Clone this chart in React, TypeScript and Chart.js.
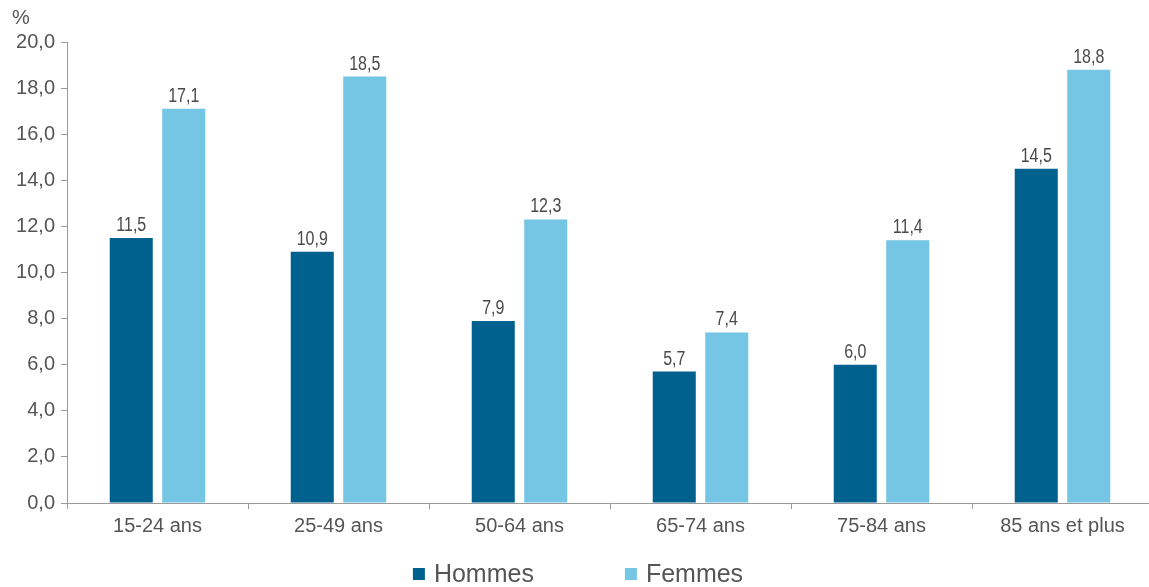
import React, { useEffect, useRef } from "react";
import { Chart, registerables } from "chart.js";

Chart.register(...registerables);

const categories = ["15-24 ans", "25-49 ans", "50-64 ans", "65-74 ans", "75-84 ans", "85 ans et plus"];
const hommes = [11.5, 10.9, 7.9, 5.7, 6.0, 14.5];
const femmes = [17.1, 18.5, 12.3, 7.4, 11.4, 18.8];
const seriesNames = ["Hommes", "Femmes"];
const seriesColors = ["#00618F", "#75C5E4"];
const yMin = 0;
const yMax = 20;
const yStep = 2;
const unitLabel = "%";

const fmt = (v: number) => v.toFixed(1).replace(".", ",");

const W = 1153;
const H = 587;

const valueLabels = {
  id: "valueLabels",
  afterDatasetsDraw(chart: any) {
    const ctx = chart.ctx;
    chart.data.datasets.forEach((ds: any, i: number) => {
      const meta = chart.getDatasetMeta(i);
      meta.data.forEach((el: any, j: number) => {
        ctx.save();
        ctx.font = '20px "Liberation Sans", Arial, sans-serif';
        ctx.fillStyle = "#4a4a4a";
        ctx.textAlign = "center";
        ctx.textBaseline = "alphabetic";
        ctx.translate(el.x, el.y - 7);
        ctx.scale(0.8, 1);
        ctx.fillText(fmt(ds.data[j]), 0, 0);
        ctx.restore();
      });
    });
  },
};

const extras = {
  id: "extras",
  afterDraw(chart: any) {
    const ctx = chart.ctx;
    ctx.save();
    // unit
    ctx.font = '20px "Liberation Sans", Arial, sans-serif';
    ctx.fillStyle = "#555555";
    ctx.textAlign = "left";
    ctx.textBaseline = "middle";
    ctx.fillText(unitLabel, 12, 18);
    // legend
    ctx.font = '25px "Liberation Sans", Arial, sans-serif';
    const box = 12;
    const boxGap = 9;
    const itemGap = 91;
    const widths = chart.data.datasets.map((d: any) => ctx.measureText(d.label).width);
    const total = widths.reduce((a: number, w: number) => a + box + boxGap + w, 0) + itemGap * (widths.length - 1);
    let x = W / 2 - total / 2 + 1.5;
    const cy = 574;
    chart.data.datasets.forEach((d: any, i: number) => {
      ctx.fillStyle = d.backgroundColor;
      ctx.fillRect(x, cy - box / 2, box, box);
      ctx.fillStyle = "#555555";
      ctx.textBaseline = "middle";
      ctx.fillText(d.label, x + box + boxGap, cy + 1);
      x += box + boxGap + widths[i] + itemGap;
    });
    ctx.restore();
  },
};

export default function App() {
  const ref = useRef<HTMLCanvasElement>(null);
  useEffect(() => {
    if (!ref.current) return;
    const chart = new Chart(ref.current, {
      type: "bar",
      data: {
        labels: categories,
        datasets: [
          { label: seriesNames[0], data: hommes, backgroundColor: seriesColors[0], categoryPercentage: 0.58, barPercentage: 0.82 },
          { label: seriesNames[1], data: femmes, backgroundColor: seriesColors[1], categoryPercentage: 0.58, barPercentage: 0.82 },
        ],
      },
      options: {
        responsive: false,
        animation: false,
        devicePixelRatio: 1,
        layout: { padding: { top: 42, left: 0, right: 0, bottom: 0 } },
        plugins: { legend: { display: false }, tooltip: { enabled: false } },
        scales: {
          x: {
            grid: { drawOnChartArea: false, drawTicks: true, tickLength: 6, color: "#9a9a9a", offset: true },
            border: { color: "#9a9a9a", width: 1 },
            ticks: {
              color: "#555555",
              font: { family: '"Liberation Sans", Arial, sans-serif', size: 20 },
              padding: 5,
              maxRotation: 0,
            },
            afterFit: (s: any) => {
              s.height = H - 503;
            },
          },
          y: {
            min: yMin,
            max: yMax,
            grid: { drawOnChartArea: false, drawTicks: true, tickLength: 6, color: "#9a9a9a" },
            border: { color: "#9a9a9a", width: 1 },
            ticks: {
              stepSize: yStep,
              color: "#555555",
              font: { family: '"Liberation Sans", Arial, sans-serif', size: 20 },
              padding: 6,
              callback: (v: any) => fmt(Number(v)),
            },
            afterFit: (s: any) => {
              s.width = 67;
            },
          },
        },
      },
      plugins: [valueLabels, extras],
    });
    return () => chart.destroy();
  }, []);
  return (
    <div style={{ position: "fixed", left: 0, top: 0, width: 1149, height: H, overflow: "hidden", background: "#fff" }}>
      <canvas ref={ref} width={W} height={H} style={{ width: W, height: H, display: "block" }} />
    </div>
  );
}
